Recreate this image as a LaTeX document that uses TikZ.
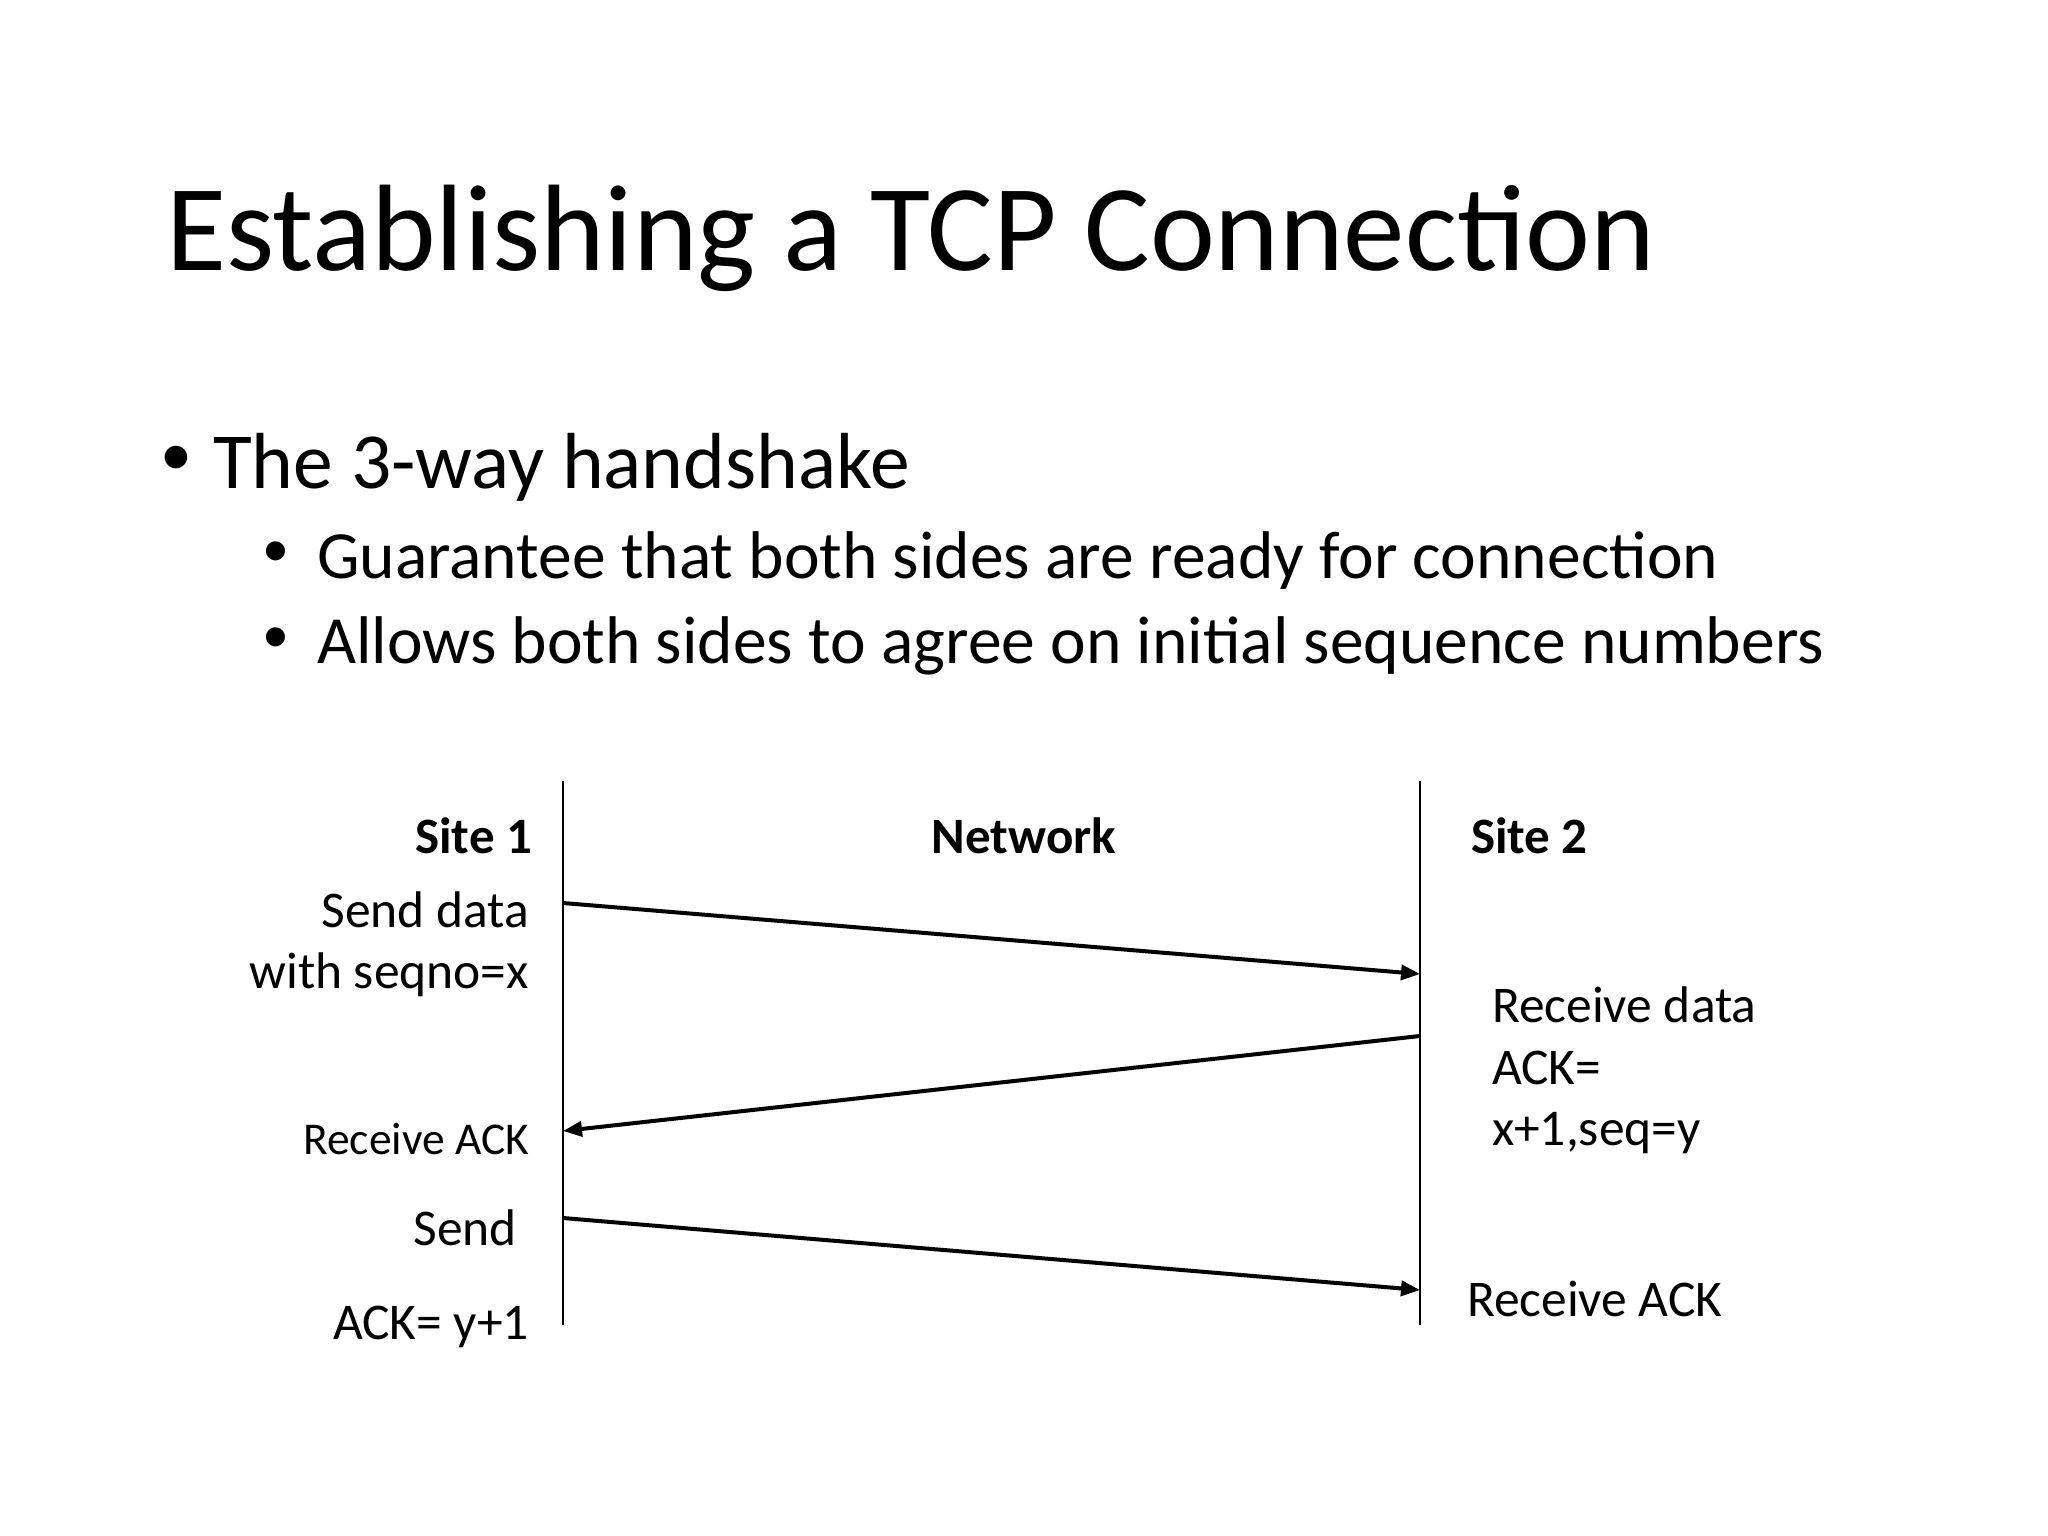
\documentclass[tikz,border=0pt]{standalone}
\usepackage{fontspec}
\setmainfont{Carlito}
\usetikzlibrary{arrows.meta}
\tikzset{
  txt/.style={inner sep=0pt, outer sep=0pt, text=black},
  title/.style={txt, font=\fontsize{123}{148}\selectfont},
  lvl1/.style={txt, font=\fontsize{79.5}{96}\selectfont},
  lvl2/.style={txt, font=\fontsize{67.5}{80}\selectfont},
  bul1/.style={txt, font=\fontsize{64}{76}\selectfont},
  bul2/.style={txt, font=\fontsize{54}{64}\selectfont},
  head/.style={txt, font=\fontsize{51}{61}\selectfont\bfseries},
  lab/.style={txt, font=\fontsize{51.5}{61.5}\selectfont, align=left},
  labr/.style={txt, font=\fontsize{51.5}{61.5}\selectfont, align=right},
  smalllab/.style={txt, font=\fontsize{45.5}{54}\selectfont},
  lifeline/.style={draw=black, line width=2pt},
  msg/.style={draw=black, line width=4pt, -{Triangle[length=19pt,width=15pt]}}
}
\begin{document}
\begin{tikzpicture}[x=1pt,y=-1pt]
\useasboundingbox[fill=white] (0,0) rectangle (2048,1536);

% title
\node[title, anchor=base west] (ttl) at (166,270) {Establishing a TCP Connection};

% bullets
\node[bul1, anchor=center] (b1) at (176,461) {•};
\node[lvl1, anchor=base west] (t1) at (213,488) {The 3-way handshake};
\node[bul2, anchor=center] (b2) at (276,554) {•};
\node[lvl2, anchor=base west] (t2) at (317,578) {Guarantee that both sides are ready for connection};
\node[bul2, anchor=center] (b3) at (276,640) {•};
\node[lvl2, anchor=base west] (t3) at (317,663) {Allows both sides to agree on initial sequence numbers};

% lifelines
\coordinate (l1top) at (563,781);
\coordinate (l1bot) at (563,1325);
\coordinate (l2top) at (1420,781);
\coordinate (l2bot) at (1420,1325);
\draw[lifeline] (l1top) -- (l1bot);
\draw[lifeline] (l2top) -- (l2bot);

% headers
\node[head, anchor=base east] (site1) at (532,853) {Site 1};
\node[head, anchor=base] (net) at (1024,853) {Network};
\node[head, anchor=base west] (site2) at (1471,853) {Site 2};

% left labels
\node[labr, anchor=base east] (send1a) at (529,927) {Send data};
\node[labr, anchor=base east] (send1b) at (529,988) {with seqno=x};
\node[smalllab, anchor=base east] (recack1) at (529,1154) {Receive ACK};
\node[labr, anchor=base east] (send3) at (517,1245) {Send};
\node[labr, anchor=base east] (ack3) at (529,1339) {ACK= y+1};

% right labels
\node[lab, anchor=base west] (rd1) at (1492,1022) {Receive data};
\node[lab, anchor=base west] (rd2) at (1492,1084) {ACK=};
\node[lab, anchor=base west] (rd3) at (1492,1145) {x+1,seq=y};
\node[lab, anchor=base west] (recack2) at (1467,1316) {Receive ACK};

% message end points on lifelines
\coordinate (m1s) at (563,903);
\coordinate (m1e) at (1420,974);
\coordinate (m2s) at (1420,1036);
\coordinate (m2e) at (563,1131);
\coordinate (m3s) at (563,1218);
\coordinate (m3e) at (1420,1290);

\draw[msg] (m1s) -- (m1e);
\draw[msg] (m2s) -- (m2e);
\draw[msg] (m3s) -- (m3e);
\end{tikzpicture}
\end{document}
